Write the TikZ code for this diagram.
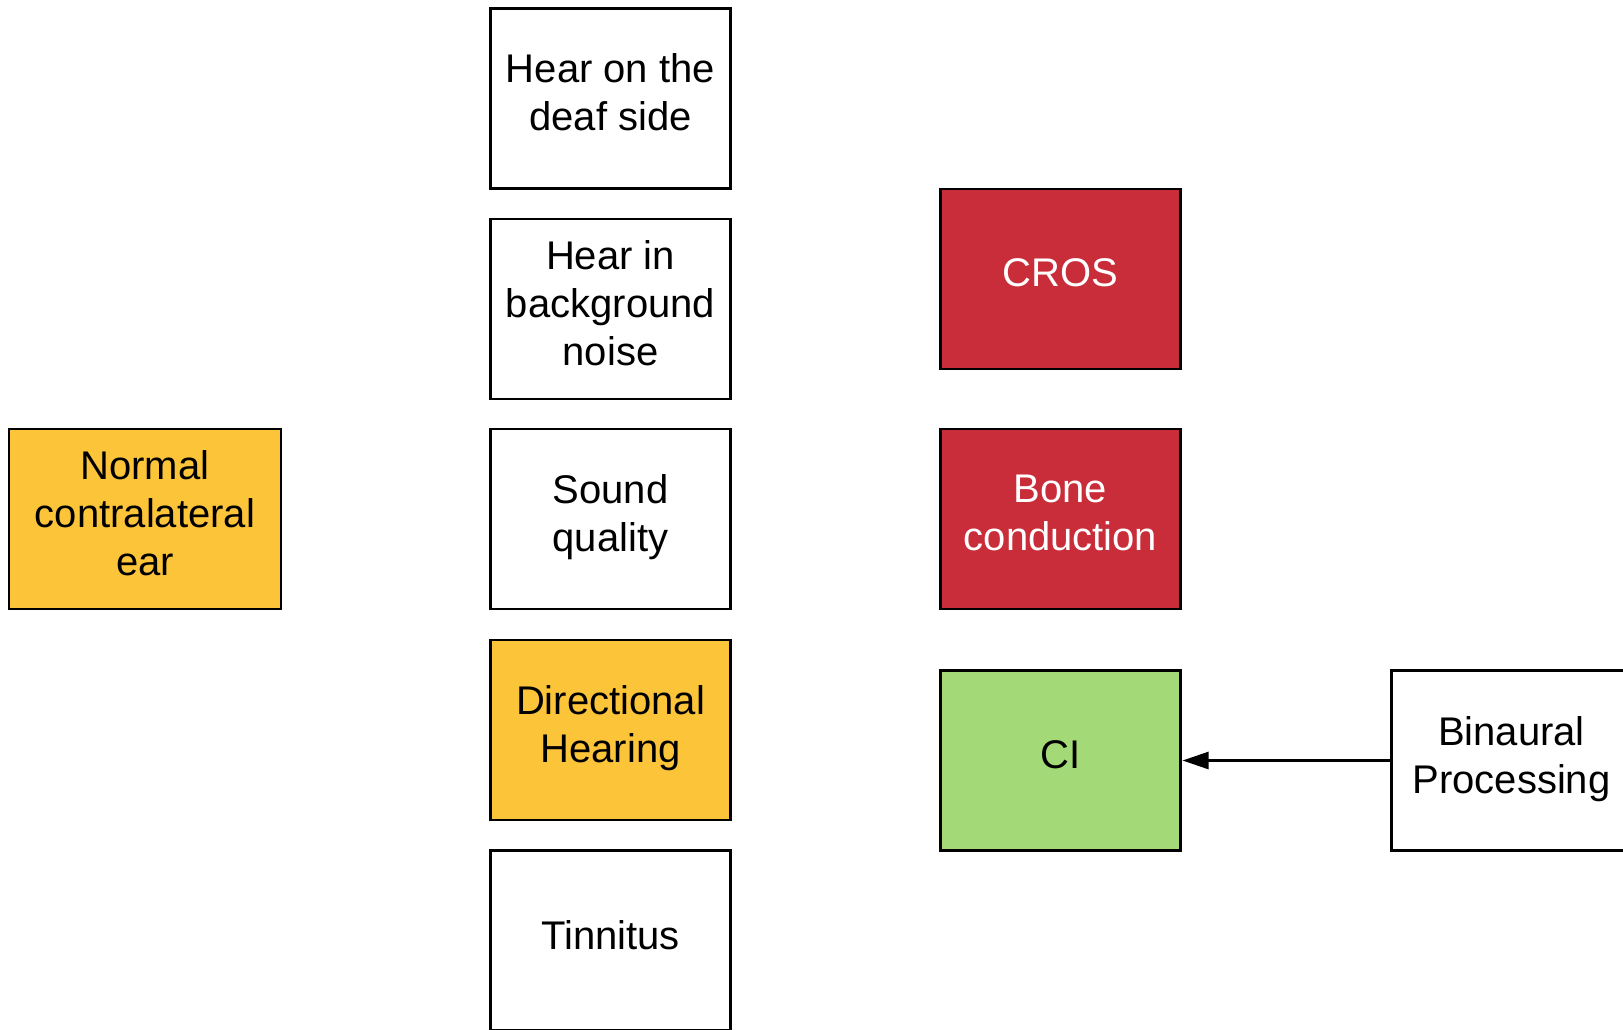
\documentclass[tikz,border=0pt]{standalone}
\usepackage{fontspec}
\setmainfont{Liberation Sans}
\usetikzlibrary{arrows.meta}
\definecolor{yel}{HTML}{FCC438}
\definecolor{redb}{HTML}{C92D39}
\definecolor{grn}{HTML}{A3D977}
\newcommand\lowstrut{\rule[-12pt]{0pt}{12pt}}
\begin{document}
\begin{tikzpicture}[x=1pt,y=-1pt,
  box/.style={draw=black,line width=2.6pt,rectangle,minimum width=240pt,minimum height=180pt,
    align=center,inner sep=0pt,outer sep=0pt,font=\fontsize{40}{48}\selectfont,
    execute at end node={\lowstrut}},
  wbox/.style={box,fill=white},
  ybox/.style={box,fill=yel},
  rbox/.style={box,fill=redb,text=white},
  gbox/.style={box,fill=grn}]
\clip (0,0) rectangle (1623,1029);
\fill[white] (0,0) rectangle (1623,1029);
\node[wbox] (deaf) at (610.5,98.5) {Hear on the\\deaf side};
\node[wbox] (bg) at (610.5,309) {Hear in\\background\\noise};
\node[wbox] (sound) at (610.5,519) {Sound\\quality};
\node[ybox] (dir) at (610.5,730) {Directional\\Hearing};
\node[wbox] (tinn) at (610.5,940.5) {Tinnitus};
\node[ybox,minimum width=272pt] (normal) at (145,519) {Normal\\contralateral\\ear};
\node[rbox] (cros) at (1060.5,279) {CROS};
\node[rbox] (bone) at (1060.5,519) {Bone\\conduction};
\node[gbox] (ci) at (1060.5,760.5) {CI};
\node[wbox] (bin) at (1511.5,760.5) {Binaural\\Processing};
\draw[line width=2.6pt,-{Triangle[length=26pt,width=17pt]},shorten >=2pt] (bin.west) -- (ci.east);
\end{tikzpicture}
\end{document}
